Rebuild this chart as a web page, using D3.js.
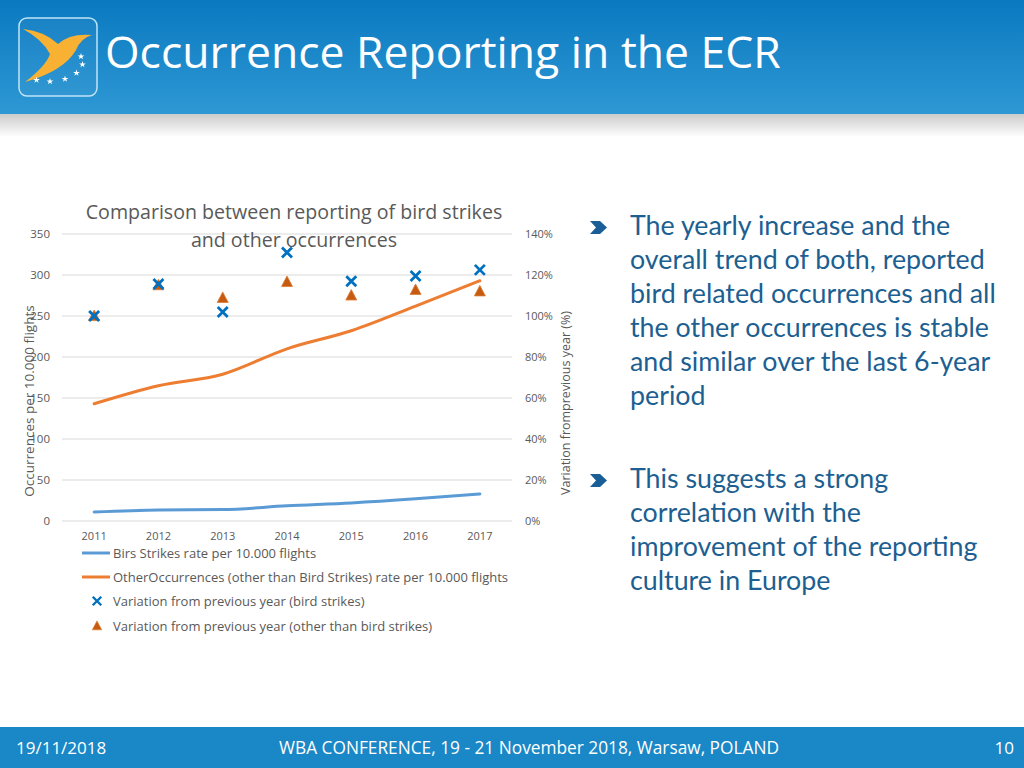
<!DOCTYPE html>
<html><head><meta charset="utf-8">
<script src="https://cdn.jsdelivr.net/npm/d3@7"></script>
<style>
html,body{margin:0;padding:0;background:#fff;}
svg{display:block;}
</style></head>
<body>
<svg id="c" width="1024" height="768"></svg>
<script>
// ---------- data ----------
const years = ["2011","2012","2013","2014","2015","2016","2017"];
const birdRate = [11, 13.5, 14, 18.5, 22, 27, 33];
const otherRate = [143, 165, 179, 210, 232, 262, 293];
const birdVar = [1.00, 1.156, 1.02, 1.31, 1.17, 1.195, 1.225];
const otherVar = [1.00, 1.15, 1.088, 1.166, 1.10, 1.127, 1.12];
const leftTicks = [0, 50, 100, 150, 200, 250, 300, 350];
const rightTicks = [0, 0.2, 0.4, 0.6, 0.8, 1.0, 1.2, 1.4];
const legendLabels = [
  "Birs Strikes rate per 10.000 flights",
  "OtherOccurrences (other than Bird Strikes) rate per 10.000 flights",
  "Variation from previous year (bird strikes)",
  "Variation from previous year (other than bird strikes)"
];
const chartTitle = ["Comparison between reporting of bird strikes", "and other occurrences"];
const bullet1 = ["The yearly increase and the", "overall trend of both, reported", "bird related occurrences and all", "the other occurrences is stable", "and similar over the last 6-year", "period"];
const bullet2 = ["This suggests a strong", "correlation with the", "improvement of the reporting", "culture in Europe"];

const svg = d3.select("#c");
const defs = svg.append("defs");

// ---------- header ----------
const hg = defs.append("linearGradient").attr("id","hg").attr("x1",0).attr("y1",0).attr("x2",0).attr("y2",1);
hg.append("stop").attr("offset","0%").attr("stop-color","#0a79c0");
hg.append("stop").attr("offset","100%").attr("stop-color","#2e98d4");
const sg = defs.append("linearGradient").attr("id","sg").attr("x1",0).attr("y1",0).attr("x2",0).attr("y2",1);
sg.append("stop").attr("offset","0%").attr("stop-color","#c9c9c9");
sg.append("stop").attr("offset","100%").attr("stop-color","#ffffff");
svg.append("rect").attr("x",0).attr("y",113).attr("width",1024).attr("height",24).attr("fill","url(#sg)");
svg.append("rect").attr("x",0).attr("y",0).attr("width",1024).attr("height",114).attr("fill","url(#hg)");

// logo
svg.append("rect").attr("x",19).attr("y",18).attr("width",78).attr("height",78).attr("rx",8)
  .attr("fill","rgba(255,255,255,0.04)").attr("stroke","#bfe3f7").attr("stroke-width",1.5);
svg.append("path")
  .attr("d","M23,29 Q44,31 58,44 Q70,33 92,35 Q81,38 76,50 Q64,71 25,82 Q46,66 50,54 Q42,39 23,29 Z")
  .attr("fill","#f8b133");
const starPts = [[36.5,80],[50,81.5],[65,79],[76.5,73],[82.5,64.5],[81,56.5]];
svg.selectAll(".st").data(starPts).join("path")
  .attr("transform", d => `translate(${d[0]},${d[1]})`)
  .attr("d", d3.symbol(d3.symbolStar, 14)())
  .attr("fill","#fff");

svg.append("text").attr("x",105).attr("y",68)
  .attr("font-family","'Open Sans', sans-serif").attr("font-size",44.5)
  .attr("fill","#fff").text("Occurrence Reporting in the ECR");

// ---------- footer ----------
svg.append("rect").attr("x",0).attr("y",727).attr("width",1024).attr("height",41).attr("fill","#1a87c6");
const ff = "'Open Sans', sans-serif";
svg.append("text").attr("x",16).attr("y",754).attr("font-family",ff).attr("font-size",17).attr("fill","#fff").text("19/11/2018");
svg.append("text").attr("x",529).attr("y",754).attr("text-anchor","middle").attr("font-family",ff).attr("font-size",17.3).attr("fill","#fff").text("WBA CONFERENCE, 19 - 21 November 2018, Warsaw, POLAND");
svg.append("text").attr("x",1014).attr("y",754).attr("text-anchor","end").attr("font-family",ff).attr("font-size",17).attr("fill","#fff").text("10");

// ---------- chart ----------
const cf = "'Open Sans', sans-serif";
const gray = "#595959";
const x = d3.scaleBand().domain(years).range([62,512]).padding(0);
const cx = d => x(d) + x.bandwidth()/2;
const yL = d3.scaleLinear().domain([0,350]).range([521,234]);
const yR = d3.scaleLinear().domain([0,1.4]).range([521,234]);

const g = svg.append("g");
g.selectAll(".grid").data(leftTicks).join("line")
  .attr("x1",62).attr("x2",512).attr("y1",d=>yL(d)).attr("y2",d=>yL(d))
  .attr("stroke","#d9d9d9").attr("stroke-width",1);

const axL = d3.axisLeft(yL).tickValues(leftTicks).tickSize(0).tickPadding(12);
const gl = g.append("g").attr("transform","translate(62,0)").call(axL);
gl.select(".domain").remove();
gl.selectAll("text").attr("font-family",cf).attr("font-size",11.5).attr("fill",gray);

const axR = d3.axisRight(yR).tickValues(rightTicks).tickFormat(d3.format(".0%")).tickSize(0).tickPadding(13);
const gr = g.append("g").attr("transform","translate(512,0)").call(axR);
gr.select(".domain").remove();
gr.selectAll("text").attr("font-family",cf).attr("font-size",11).attr("fill",gray);

const axB = d3.axisBottom(x).tickSize(0).tickPadding(11);
const gb = g.append("g").attr("transform","translate(0,521)").call(axB);
gb.select(".domain").remove();
gb.selectAll("text").attr("font-family",cf).attr("font-size",11).attr("fill",gray);

// lines
const line = (arr) => d3.line().x((d,i)=>cx(years[i])).y(d=>yL(d)).curve(d3.curveMonotoneX)(arr);
g.append("path").attr("d",line(otherRate)).attr("fill","none").attr("stroke","#ed7d31").attr("stroke-width",3).attr("stroke-linecap","round");
g.append("path").attr("d",line(birdRate)).attr("fill","none").attr("stroke","#5b9bd5").attr("stroke-width",3).attr("stroke-linecap","round");

// markers
const triPath = "M0,-6 L5.5,4.5 L-5.5,4.5 Z";
const xPath = "M-5,-5 L5,5 M-5,5 L5,-5";
g.selectAll(".tri").data(otherVar).join("path")
  .attr("transform",(d,i)=>`translate(${cx(years[i])},${yR(d)})`)
  .attr("d",triPath).attr("fill","#c55a11").attr("stroke","#e07b2e").attr("stroke-width",0.8);
g.selectAll(".xm").data(birdVar).join("path")
  .attr("transform",(d,i)=>`translate(${cx(years[i])},${yR(d)})`)
  .attr("d",xPath).attr("fill","none").attr("stroke","#0070c0").attr("stroke-width",2.8);

// titles
g.selectAll(".ct").data(chartTitle).join("text")
  .attr("x",294).attr("y",(d,i)=>219+i*28).attr("text-anchor","middle")
  .attr("font-family",cf).attr("font-size",19.6).attr("fill",gray).text(d=>d);
g.append("text").attr("transform","translate(34,401) rotate(-90)").attr("text-anchor","middle")
  .attr("font-family",cf).attr("font-size",13.5).attr("fill",gray).text("Occurrences per 10.000 flights");
g.append("text").attr("transform","translate(570,403) rotate(-90)").attr("text-anchor","middle")
  .attr("font-family",cf).attr("font-size",12.5).attr("fill",gray).text("Variation fromprevious year (%)");

// legend
const ly = [553, 577, 601, 626];
const lg = g.append("g");
lg.append("line").attr("x1",82).attr("x2",110).attr("y1",ly[0]).attr("y2",ly[0]).attr("stroke","#5b9bd5").attr("stroke-width",3);
lg.append("line").attr("x1",82).attr("x2",110).attr("y1",ly[1]).attr("y2",ly[1]).attr("stroke","#ed7d31").attr("stroke-width",3);
lg.append("path").attr("transform",`translate(97,${ly[2]}) scale(0.85)`).attr("d",xPath).attr("fill","none").attr("stroke","#0070c0").attr("stroke-width",2.8);
lg.append("path").attr("transform",`translate(97,${ly[3]}) scale(0.85)`).attr("d",triPath).attr("fill","#c55a11").attr("stroke","#e07b2e").attr("stroke-width",0.8);
lg.selectAll(".lt").data(legendLabels).join("text")
  .attr("x",113).attr("y",(d,i)=>ly[i]+4.5)
  .attr("font-family",cf).attr("font-size",13).attr("fill",gray).text(d=>d);

// ---------- bullets ----------
const bf = "Lato, 'Open Sans', sans-serif";
const blue = "#1d5f91";
function bullet(lines, y0){
  svg.append("path").attr("transform",`translate(590,${y0-14})`)
    .attr("d","M0,0 L10,0 L17,6.5 L10,13 L0,13 L6,6.5 Z").attr("fill","#1a5e98");
  svg.selectAll(null).data(lines).join("text")
    .attr("x",630).attr("y",(d,i)=>y0+i*34)
    .attr("font-family",bf).attr("font-size",26.8).attr("fill",blue).text(d=>d);
}
bullet(bullet1, 235);
bullet(bullet2, 488);
</script>
</body></html>
